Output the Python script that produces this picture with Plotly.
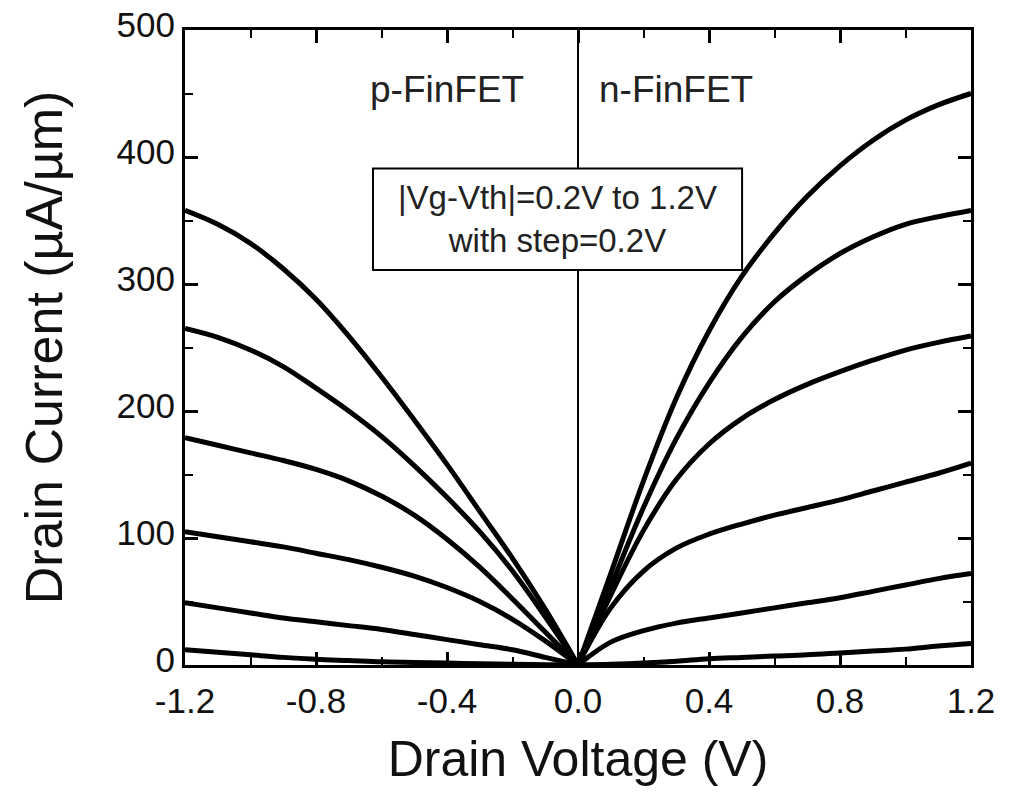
import plotly.graph_objects as go

# Drain voltage sweep points (V)
vd_p = [-1.2, -1.1, -1.0, -0.9, -0.8, -0.7, -0.6, -0.5, -0.4, -0.3, -0.2, -0.1, 0.0]
vd_n = [0.0, 0.1, 0.2, 0.3, 0.4, 0.5, 0.6, 0.7, 0.8, 0.9, 1.0, 1.1, 1.2]

# p-FinFET drain current (uA/um), |Vg-Vth| = 1.2 V down to 0.2 V
p_12 = [358, 347, 332, 312, 288, 259, 227, 193, 158, 121, 84, 44, 0]
p_10 = [265, 258, 248, 235, 218, 200, 180, 157, 132, 105, 74, 38, 0]
p_08 = [179, 173, 167, 161, 154, 145, 133, 118, 99, 77, 52, 26, 0]
p_06 = [105, 101, 97, 93, 88, 83, 77, 70, 61, 50, 36, 19, 0]
p_04 = [49, 45, 41, 37, 34, 31, 28, 24, 20, 16, 12, 6, 0]
p_02 = [12, 10, 8, 6, 4.5, 3.5, 2.5, 2, 1.5, 1, 0.5, 0.2, 0]

# n-FinFET drain current (uA/um), |Vg-Vth| = 1.2 V down to 0.2 V
n_12 = [0, 72, 145, 210, 263, 306, 340, 369, 393, 413, 429, 441, 450]
n_10 = [0, 62, 124, 178, 222, 258, 286, 307, 324, 337, 347, 353, 358]
n_08 = [0, 55, 106, 146, 174, 194, 209, 221, 231, 240, 248, 254, 259]
n_06 = [0, 45, 74, 92, 103, 111, 118, 124, 130, 137, 144, 151, 159]
n_04 = [0, 18, 27, 33, 37, 41, 45, 49, 53, 58, 63, 68, 72]
n_02 = [0, 0.5, 1.5, 3, 5, 6, 7, 8, 9.5, 11, 12.5, 15, 17]

x_ticks = [-1.2, -0.8, -0.4, 0.0, 0.4, 0.8, 1.2]
x_ticktext = ["-1.2", "-0.8", "-0.4", "0.0", "0.4", "0.8", "1.2"]
y_ticks = [0, 100, 200, 300, 400, 500]

FONT = "Liberation Sans, Arial, sans-serif"
INK = "#111111"

fig = go.Figure()

for curve in [p_12, p_10, p_08, p_06, p_04, p_02]:
    fig.add_trace(go.Scatter(x=vd_p, y=curve, mode="lines",
                             line=dict(color="black", width=5, shape="spline", smoothing=1.0),
                             showlegend=False, hoverinfo="skip"))
for curve in [n_12, n_10, n_08, n_06, n_04, n_02]:
    fig.add_trace(go.Scatter(x=vd_n, y=curve, mode="lines",
                             line=dict(color="black", width=5, shape="spline", smoothing=1.0),
                             showlegend=False, hoverinfo="skip"))

# divider at Vd = 0 and the bias-condition box
fig.add_shape(type="line", x0=0, x1=0, y0=0, y1=500, xref="x", yref="y",
              line=dict(color="black", width=2), layer="below")
fig.add_shape(type="rect", x0=-0.626, x1=0.501, y0=311, y1=391, xref="x", yref="y",
              line=dict(color="black", width=2), fillcolor="white", layer="below")

fig.add_annotation(x=(-0.626 + 0.501) / 2, y=351, xref="x", yref="y",
                   text="|Vg-Vth|=0.2V to 1.2V<br>with step=0.2V", showarrow=False,
                   font=dict(family=FONT, size=33, color="#222222"), align="center")
fig.add_annotation(x=-0.40, y=453, xref="x", yref="y", text="p-FinFET", showarrow=False,
                   font=dict(family=FONT, size=37, color="#222222"))
fig.add_annotation(x=0.30, y=453, xref="x", yref="y", text="n-FinFET", showarrow=False,
                   font=dict(family=FONT, size=37, color="#222222"))

axis_common = dict(showline=True, linecolor="black", linewidth=3, mirror="ticks",
                   ticks="inside", tickcolor="black", tickwidth=3, ticklen=13,
                   showgrid=False, zeroline=False, automargin=False,
                   tickfont=dict(family=FONT, size=35, color=INK))

fig.update_xaxes(range=[-1.2, 1.2], tickvals=x_ticks, ticktext=x_ticktext,
                 ticklabelstandoff=3,
                 minor=dict(ticks="inside", dtick=0.2, tick0=0, ticklen=8, tickwidth=2,
                            tickcolor="black", showgrid=False),
                 title=dict(text="Drain Voltage (V)", standoff=22,
                            font=dict(family=FONT, size=50, color=INK)),
                 **axis_common)
fig.update_yaxes(range=[0, 500], tickvals=y_ticks, ticklabelshift=-5,
                 minor=dict(ticks="inside", dtick=50, tick0=0, ticklen=8, tickwidth=2,
                            tickcolor="black", showgrid=False),
                 title=dict(text="Drain Current (µA/µm)", standoff=38,
                            font=dict(family=FONT, size=52, color=INK)),
                 **axis_common)

fig.update_layout(width=1018, height=795,
                  margin=dict(l=185, r=47, t=30, b=130),
                  paper_bgcolor="white", plot_bgcolor="white")

fig.write_html("out.html")
